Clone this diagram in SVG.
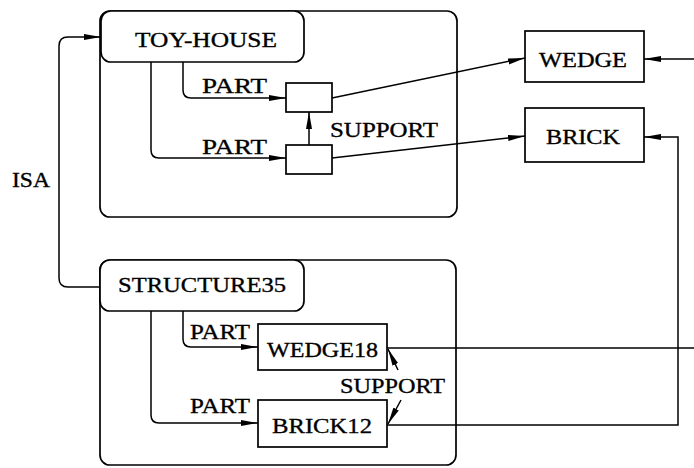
<svg xmlns="http://www.w3.org/2000/svg" width="694" height="468" viewBox="0 0 694 468">
<defs>
<marker id="arr" markerUnits="userSpaceOnUse" markerWidth="18" markerHeight="8" viewBox="0 0 18 8" refX="17" refY="4" orient="auto">
<path d="M0,1 L17,4 L0,7 Z" fill="#000"/>
</marker>
<style>
.box{fill:#fff;stroke:#000;stroke-width:1.7}
.cont{fill:none;stroke:#000;stroke-width:1.7}
.t{font-family:"Liberation Serif","Times New Roman",serif;font-size:22px;fill:#000;stroke:#000;stroke-width:0.35}
.c{fill:none;stroke:#000;stroke-width:1.5;marker-end:url(#arr)}
.l{fill:none;stroke:#000;stroke-width:1.5}
</style>
</defs>
<rect width="694" height="468" fill="#fff"/>
<g id="toy-house-frame"><rect class="cont" x="100" y="11" width="357" height="206" rx="10"/></g>
<g id="structure35-frame"><rect class="cont" x="100" y="260" width="356" height="205" rx="10"/></g>
<g id="connectors">
<path class="c" d="M100,287 L68,287 Q59,287 59,278 L59,46 Q59,37 68,37 L101,37"/>
<path class="c" d="M183,62 L183,90 Q183,98 191,98 L286,98"/>
<path class="c" d="M151,62 L151,150 Q151,158 159,158 L286,158"/>
<path class="c" d="M309,145 L309,112"/>
<path class="c" d="M332,98 L525,58"/>
<path class="c" d="M332,158 L525,136"/>
<path class="c" d="M694,59 L644,59"/>
<path class="c" d="M387,425 L678,425 L678,137 L644,137"/>
<path class="l" d="M387,348 L694,348"/>
<path class="c" d="M183,311 L183,339 Q183,347 191,347 L258,347"/>
<path class="c" d="M151,311 L151,415 Q151,423 159,423 L258,423"/>
<path class="c" d="M398,370 L388,349"/>
<path class="c" d="M401,400 L388,424"/>
</g>
<g id="labels">
<text class="t" x="202" y="93" textLength="65" lengthAdjust="spacingAndGlyphs">PART</text>
<text class="t" x="202" y="154" textLength="65" lengthAdjust="spacingAndGlyphs">PART</text>
<text class="t" x="330" y="137" textLength="108" lengthAdjust="spacingAndGlyphs">SUPPORT</text>
<text class="t" x="12" y="187" textLength="38" lengthAdjust="spacingAndGlyphs">ISA</text>
<text class="t" x="190" y="339" textLength="60" lengthAdjust="spacingAndGlyphs">PART</text>
<text class="t" x="190" y="413" textLength="60" lengthAdjust="spacingAndGlyphs">PART</text>
<text class="t" x="340" y="393" textLength="105" lengthAdjust="spacingAndGlyphs">SUPPORT</text>
</g>
<g id="toy-house"><rect class="box" x="101" y="11" width="203" height="51" rx="10"/><text class="t" x="135" y="47" textLength="142" lengthAdjust="spacingAndGlyphs">TOY-HOUSE</text></g>
<g id="part-a"><rect class="box" x="286" y="83" width="46" height="29"/></g>
<g id="part-b"><rect class="box" x="286" y="145" width="46" height="29"/></g>
<g id="wedge"><rect class="box" x="525" y="31" width="119" height="51"/><text class="t" x="539" y="67" textLength="88" lengthAdjust="spacingAndGlyphs">WEDGE</text></g>
<g id="brick"><rect class="box" x="525" y="108" width="119" height="54"/><text class="t" x="546" y="144" textLength="74" lengthAdjust="spacingAndGlyphs">BRICK</text></g>
<g id="structure35"><rect class="box" x="100" y="260" width="204" height="51" rx="10"/><text class="t" x="118" y="292" textLength="168" lengthAdjust="spacingAndGlyphs">STRUCTURE35</text></g>
<g id="wedge18"><rect class="box" x="258" y="324" width="129" height="46"/><text class="t" x="267" y="357" textLength="111" lengthAdjust="spacingAndGlyphs">WEDGE18</text></g>
<g id="brick12"><rect class="box" x="258" y="400" width="129" height="47"/><text class="t" x="272" y="433" textLength="100" lengthAdjust="spacingAndGlyphs">BRICK12</text></g>
</svg>
